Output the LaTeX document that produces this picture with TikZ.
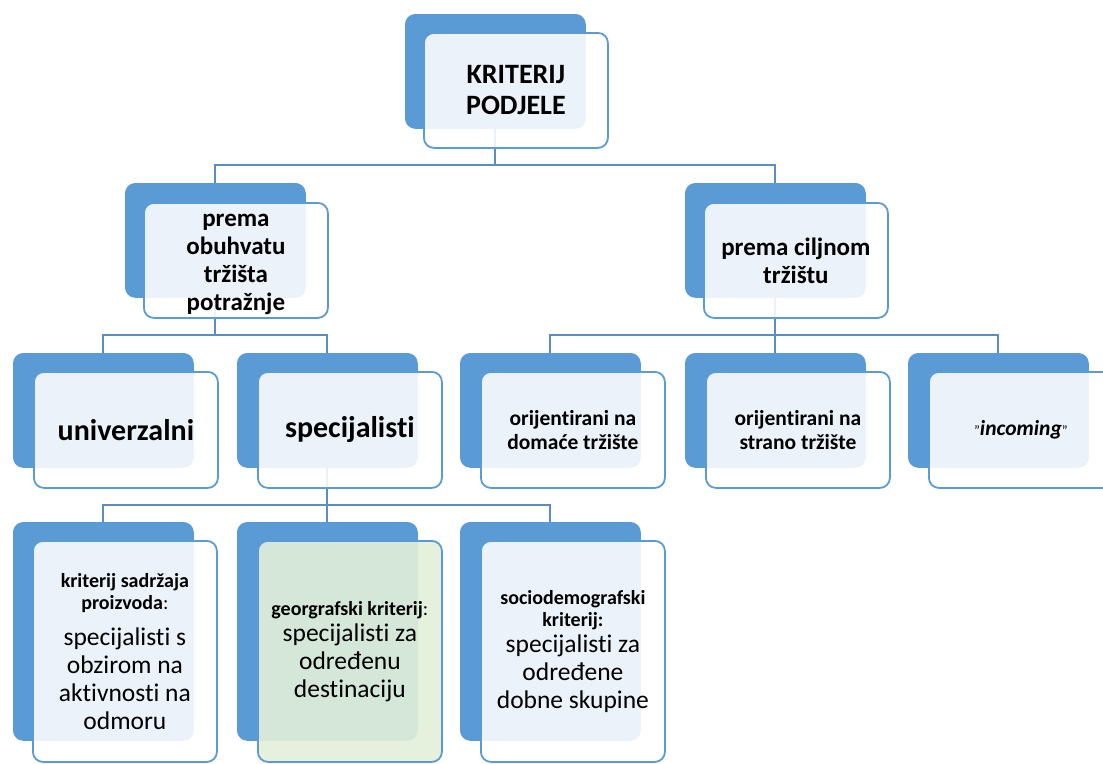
\documentclass[tikz,border=0pt]{standalone}
\usepackage{fontspec}
\setmainfont{Carlito}[Ligatures={NoCommon,NoContextual}]
\usetikzlibrary{backgrounds}
\definecolor{boxblue}{HTML}{5B9BD5}
\definecolor{linkblue}{HTML}{5A8DC6}
\definecolor{greenfill}{HTML}{E2F0D9}
\tikzset{
  backbox/.style={draw=boxblue, fill=boxblue, line width=0.8pt, rounded corners=10pt,
    anchor=north west, inner sep=0pt, minimum width=180pt, minimum height=114pt},
  frontbox/.style={draw=boxblue, line width=1.8pt, fill=white, fill opacity=0.88, text opacity=1,
    rounded corners=10pt, anchor=north west, inner sep=0pt, align=center,
    minimum width=184pt, minimum height=115pt},
  tallback/.style={backbox, minimum height=218pt},
  tallfront/.style={frontbox, minimum height=221pt, text width=182pt, align=flush center},
  link/.style={draw=linkblue, line width=2pt},
  lvlone/.style={font=\fontsize{28}{31}\selectfont\bfseries},
  lvltwo/.style={font=\fontsize{25}{28}\selectfont\bfseries},
  lvlbig/.style={font=\fontsize{30}{33}\selectfont\bfseries},
  lvlsmall/.style={font=\fontsize{21.5}{23.5}\selectfont\bfseries},
  lvlfour/.style={font=\fontsize{25.5}{28}\selectfont},
}
\newcommand\hdfont{\bfseries\fontsize{20}{22.5}\selectfont}
\newcommand\smallquote{{\mdseries\fontsize{14}{14}\selectfont\char"0022}}
\newcommand\setlines{\centering\spaceskip=0pt\xspaceskip=0pt\relax}
\begin{document}
\begin{tikzpicture}[x=1pt,y=-1pt]
\useasboundingbox (0,0) rectangle (1103,763);
% level 1
\node[backbox] (k1) at (405,14) {};
\node[frontbox, lvlone] (k1f) at (423,32) {KRITERIJ\\PODJELE};
% level 2
\node[backbox] (k2a) at (125,183) {};
\node[frontbox, lvltwo] (k2af) at (143,202) {\rule{0pt}{21pt}prema\\obuhvatu\\tržišta\\potražnje};
\node[backbox] (k2b) at (685,183) {};
\node[frontbox, lvltwo] (k2bf) at (703,202) {prema ciljnom\\tržištu};
% level 3
\node[backbox] (k3a) at (13,353) {};
\node[frontbox, lvlbig, minimum height=116pt] (k3af) at (33,371) {univerzalni};
\node[backbox] (k3b) at (237,353) {};
\node[frontbox, lvlbig, minimum height=116pt] (k3bf) at (257,371) {specijalisti};
\node[backbox] (k3c) at (460,353) {};
\node[frontbox, lvlsmall, minimum height=116pt] (k3cf) at (480,371) {orijentirani na\\domaće tržište};
\node[backbox] (k3d) at (685,353) {};
\node[frontbox, lvlsmall, minimum height=116pt] (k3df) at (705,371) {orijentirani na\\strano tržište};
\node[backbox] (k3e) at (908,353) {};
\node[frontbox, lvlsmall, minimum height=116pt] (k3ef) at (928,371)
  {\smallquote\textit{incoming}\smallquote};
% level 4
\node[tallback] (k4a) at (13,522) {};
\node[tallfront, lvlfour] (k4af) at (32,540)
  {\setlines{\hdfont kriterij sadržaja\par proizvoda{\mdseries:}\par}\vskip 8pt
   specijalisti s\par obzirom na\par aktivnosti na\par odmoru\par};
\node[tallback] (k4b) at (237,522) {};
\node[tallfront, lvlfour, fill=greenfill, fill opacity=0.9] (k4bf) at (257,540)
  {\setlines{\hdfont georgrafski kriterij{\mdseries:}\par}\vskip -2pt
   specijalisti za\par određenu\par destinaciju\par};
\node[tallback] (k4c) at (460,522) {};
\node[tallfront, lvlfour] (k4cf) at (480,540)
  {\setlines{\hdfont sociodemografski\par kriterij:\par}\vskip -2pt
   specijalisti za\par određene\par dobne skupine\par};
% connectors
\begin{scope}[on background layer]
\draw[link] (k1.south) -- ++(0,36) -| (k2a.north);
\draw[link] (k1.south) -- ++(0,36) -| (k2b.north);
\draw[link] (k2a.south) -- ++(0,37) -| (k3a.north);
\draw[link] (k2a.south) -- ++(0,37) -| (k3b.north);
\draw[link] (k2b.south) -- ++(0,37) -| (k3c.north);
\draw[link] (k2b.south) -- ++(0,37) -| (k3d.north);
\draw[link] (k2b.south) -- ++(0,37) -| (k3e.north);
\draw[link] (k3b.south) -- ++(0,37) -| (k4a.north);
\draw[link] (k3b.south) -- ++(0,37) -| (k4b.north);
\draw[link] (k3b.south) -- ++(0,37) -| (k4c.north);
\end{scope}
\end{tikzpicture}
\end{document}
